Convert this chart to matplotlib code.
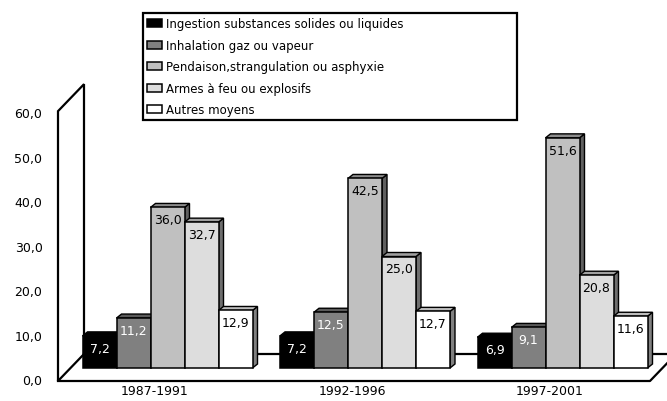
import matplotlib
matplotlib.use('Agg')
import matplotlib.pyplot as plt
from matplotlib.patches import Polygon, Rectangle

periodes = ['1987-1991', '1992-1996', '1997-2001']
series = ['Ingestion substances solides ou liquides',
          'Inhalation gaz ou vapeur',
          'Pendaison,strangulation ou asphyxie',
          'Armes à feu ou explosifs',
          'Autres moyens']
ingestion = [7.2, 7.2, 6.9]
inhalation = [11.2, 12.5, 9.1]
pendaison = [36.0, 42.5, 51.6]
armes = [32.7, 25.0, 20.8]
autres = [12.9, 12.7, 11.6]
valeurs = [ingestion, inhalation, pendaison, armes, autres]
yticks = [0, 10, 20, 30, 40, 50, 60]

faces = ['#000000', '#808080', '#c0c0c0', '#dddddd', '#ffffff']
sides = ['#000000', '#404040', '#606060', '#6e6e6e', '#808080']
tops = ['#000000', '#5a5a5a', '#8c8c8c', '#a0a0a0', '#bdbdbd']
txtcol = ['white', 'white', 'black', 'black', 'black']

# conversion pixels -> unites de donnees
PX = 1 / 197.5   # x : 197.5 px entre deux groupes
PY = 1 / 4.46    # y : 4.46 px par unite

fig = plt.figure(figsize=(6.67, 4.02), dpi=100)
ax = fig.add_axes([0, 0, 1, 1])
ax.set_xlim(-167.5 * PX, 499.5 * PX)
ax.set_ylim(-33 * PY, 369 * PY)
ax.axis('off')

# cadre 3D (mur gauche + sol)
x0 = -109.5 * PX          # bord avant gauche
x1 = 482.5 * PX           # bord avant droit
yb = -13 * PY             # sol avant
yt = yb + 60.5            # haut du mur avant
dx, dy = 26 * PX, 27 * PY
lw = 1.6
ax.add_patch(Polygon([(x0, yb), (x0, yt), (x0 + dx, yt + dy), (x0 + dx, yb + dy)],
                     closed=True, fc='white', ec='black', lw=lw, zorder=1))
ax.plot([x0, x1, x1 + dx, x0 + dx], [yb, yb, yb + dy, yb + dy], color='black', lw=lw, zorder=1)

# barres avec effet 3D
w = 34 * PX
bdx, bdy = 5 * PX, 4 * PY
handles = []
z = 2
for g in range(len(periodes)):
    for k, vals in enumerate(valeurs):
        v = vals[g]
        xl = g + (k - 2.5) * w
        xr = xl + w
        ax.add_patch(Polygon([(xr, 0), (xr + bdx, bdy), (xr + bdx, v + bdy), (xr, v)],
                             closed=True, fc=sides[k], ec='black', lw=1, zorder=z))
        ax.add_patch(Polygon([(xl, v), (xl + bdx, v + bdy), (xr + bdx, v + bdy), (xr, v)],
                             closed=True, fc=tops[k], ec='black', lw=1, zorder=z))
        b = ax.bar(xl, v, width=w, align='edge', color=faces[k], edgecolor='black',
                   lw=1.1, zorder=z + 1, label=series[k])
        if g == 0:
            handles.append(b)
        ax.text(xl + w / 2, v - 12.5 * PY, ('%.1f' % v).replace('.', ','),
                ha='center', va='center', fontsize=9, color=txtcol[k], zorder=z + 2)
        z += 3

# etiquettes des axes
for t in yticks:
    ax.text(-125 * PX, yb + t, ('%.1f' % t).replace('.', ','), ha='right', va='center', fontsize=9)
for g, p in enumerate(periodes):
    ax.text(g - 13 * PX, -23 * PY, p, ha='center', va='center', fontsize=9)

# legende
fig.add_artist(Rectangle((143 / 667, 1 - 121 / 402), 374 / 667, 107 / 402,
                         transform=fig.transFigure, fc='white', ec='black', lw=1.6, zorder=10))
leg = fig.legend(handles=handles, labels=series, loc='upper left',
                 bbox_to_anchor=(145 / 667, 1 - 16 / 402), frameon=False, fontsize=8.5,
                 handlelength=1.25, handleheight=0.7, handletextpad=0.35,
                 labelspacing=0.72, borderpad=0.2, borderaxespad=0)
leg.set_zorder(11)

fig.savefig('out.png', dpi=100)
